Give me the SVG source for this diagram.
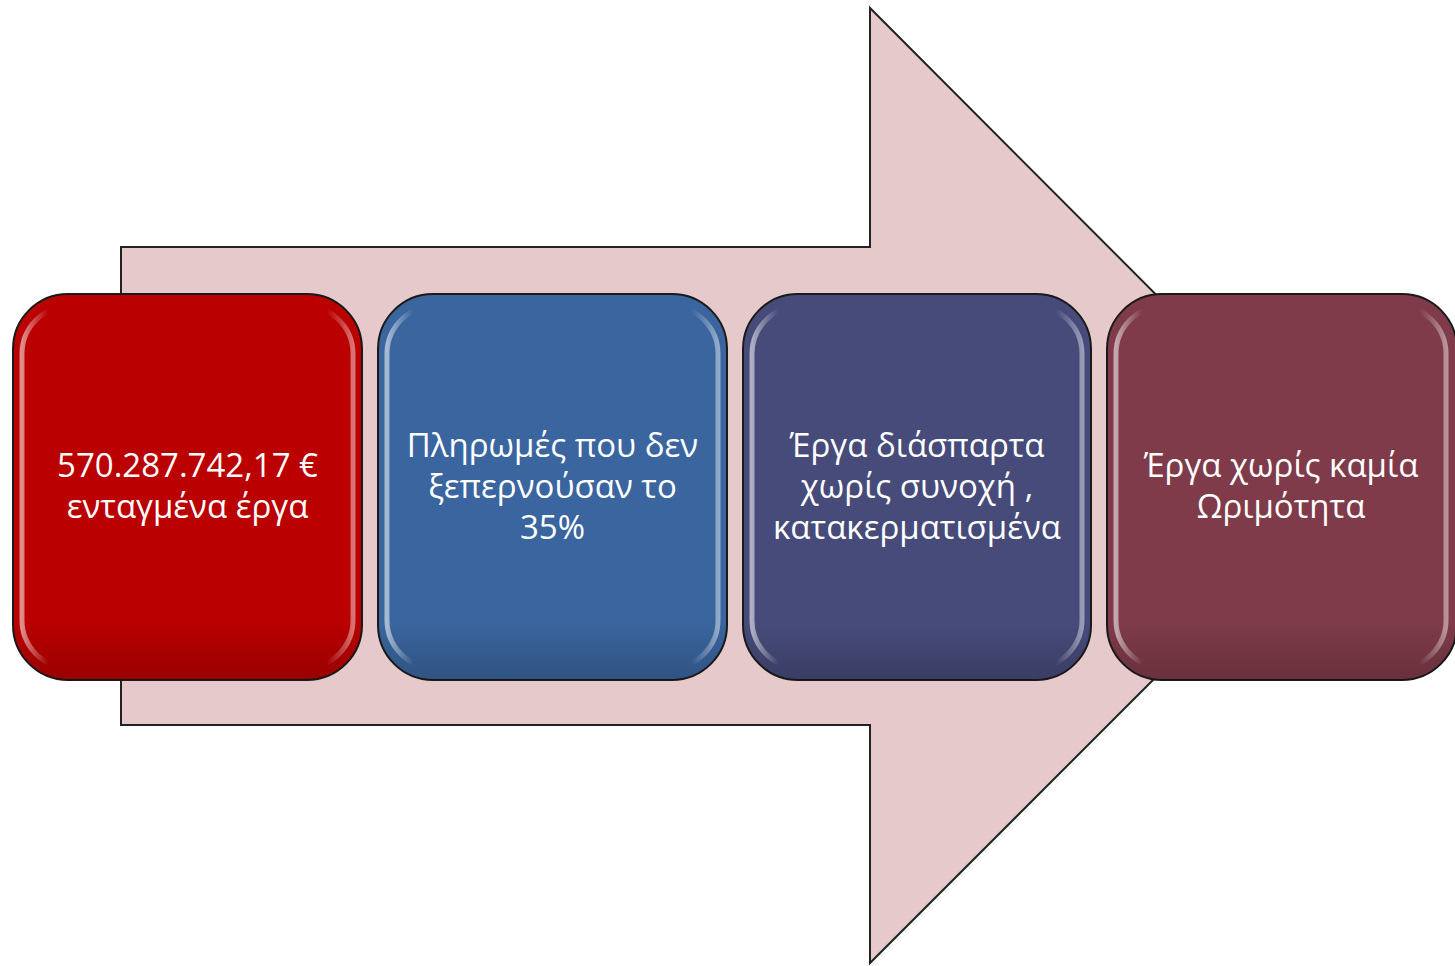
<svg xmlns="http://www.w3.org/2000/svg" width="1455" height="966" viewBox="0 0 1455 966">
<style>
.box{stroke:#1a1a1a;stroke-width:2}
.hl{fill:none;stroke:url(#gloss);stroke-width:5}
.lbl{font-family:"Open Sans","Noto Sans","DejaVu Sans",sans-serif;font-size:33px;fill:#ffffff;text-anchor:middle}
</style>
<defs>
<linearGradient id="gloss" x1="0" y1="0" x2="1" y2="0">
<stop offset="0" stop-color="#ffffff" stop-opacity="0.55"/>
<stop offset="0.08" stop-color="#ffffff" stop-opacity="0"/>
<stop offset="0.92" stop-color="#ffffff" stop-opacity="0"/>
<stop offset="1" stop-color="#ffffff" stop-opacity="0.45"/>
</linearGradient>
<linearGradient id="shade" x1="0" y1="0" x2="0" y2="1">
<stop offset="0" stop-color="#000000" stop-opacity="0"/>
<stop offset="0.85" stop-color="#000000" stop-opacity="0"/>
<stop offset="1" stop-color="#000000" stop-opacity="0.18"/>
</linearGradient>
</defs>
<g id="arrow">
<polygon points="121,247 870,247 870,8 1347,486 870,963 870,725 121,725" fill="#e6cacb" stroke="#222" stroke-width="2"/>
</g>
<g id="node1">
<rect class="box" x="13" y="294" width="349" height="386" rx="55" fill="#ba0000"/>
<rect x="13" y="294" width="349" height="386" rx="55" fill="url(#shade)"/>
<rect class="hl" x="22" y="306" width="331" height="362" rx="48"/>
<text class="lbl" x="187.5" y="477">570.287.742,17 €</text>
<text class="lbl" x="187.5" y="518">ενταγμένα έργα</text>
</g>
<g id="node2">
<rect class="box" x="378" y="294" width="349" height="386" rx="55" fill="#3a659e"/>
<rect x="378" y="294" width="349" height="386" rx="55" fill="url(#shade)"/>
<rect class="hl" x="387" y="306" width="331" height="362" rx="48"/>
<text class="lbl" x="552.5" y="457">Πληρωμές που δεν</text>
<text class="lbl" x="552.5" y="498">ξεπερνούσαν το</text>
<text class="lbl" x="552.5" y="539">35%</text>
</g>
<g id="node3">
<rect class="box" x="743" y="294" width="348" height="386" rx="55" fill="#464b7a"/>
<rect x="743" y="294" width="348" height="386" rx="55" fill="url(#shade)"/>
<rect class="hl" x="752" y="306" width="330" height="362" rx="48"/>
<text class="lbl" x="917" y="457">Έργα διάσπαρτα</text>
<text class="lbl" x="917" y="498">χωρίς συνοχή ,</text>
<text class="lbl" x="917" y="539">κατακερματισμένα</text>
</g>
<g id="node4">
<rect class="box" x="1107" y="294" width="350" height="386" rx="55" fill="#7f3b4a"/>
<rect x="1107" y="294" width="350" height="386" rx="55" fill="url(#shade)"/>
<rect class="hl" x="1116" y="306" width="330" height="362" rx="48"/>
<text class="lbl" x="1281" y="477">Έργα χωρίς καμία</text>
<text class="lbl" x="1281" y="518">Ωριμότητα</text>
</g>
</svg>
